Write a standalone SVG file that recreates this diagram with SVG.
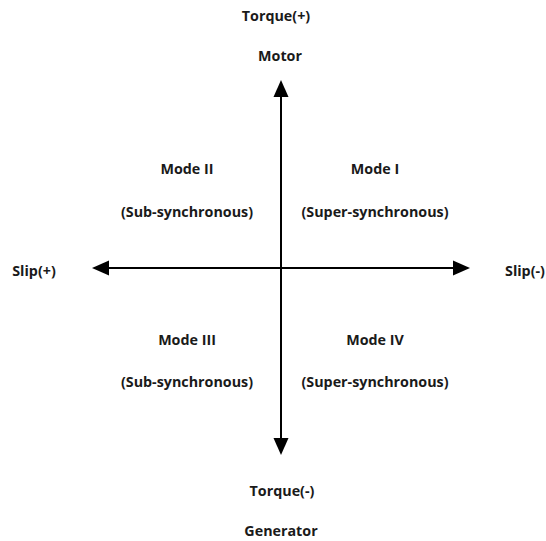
<svg xmlns="http://www.w3.org/2000/svg" width="546" height="541" viewBox="0 0 546 541">
<defs>
<style>
text{font-family:"Open Sans","Noto Sans",sans-serif;font-weight:bold;font-size:14.3px;fill:#1a1a1a;text-anchor:middle;dominant-baseline:central}
.ax{stroke:#000;stroke-width:2;fill:none}
</style>
</defs>
<rect width="546" height="541" fill="#fff"/>
<g id="connectors">
<path class="ax" d="M281,268 V96"/>
<path d="M281,80 L273.5,97 L288.5,97 z" fill="#000"/>
<path class="ax" d="M281,268 V439"/>
<path d="M281,455 L273.5,438 L288.5,438 z" fill="#000"/>
<path class="ax" d="M281,268 H108"/>
<path d="M92,268 L109,260.5 L109,275.5 z" fill="#000"/>
<path class="ax" d="M281,268 H454"/>
<path d="M470,268 L453,260.5 L453,275.5 z" fill="#000"/>
</g>
<g id="torque-pos"><text x="276" y="15">Torque(+)</text></g>
<g id="motor"><text x="280" y="55">Motor</text></g>
<g id="mode2"><text x="187" y="168">Mode II</text><text x="187" y="211">(Sub-synchronous)</text></g>
<g id="mode1"><text x="375" y="168">Mode I</text><text x="375" y="211">(Super-synchronous)</text></g>
<g id="slip-pos"><text x="34" y="270">Slip(+)</text></g>
<g id="slip-neg"><text x="525" y="270">Slip(-)</text></g>
<g id="mode3"><text x="187" y="339">Mode III</text><text x="187" y="381">(Sub-synchronous)</text></g>
<g id="mode4"><text x="375" y="339">Mode IV</text><text x="375" y="381">(Super-synchronous)</text></g>
<g id="torque-neg"><text x="282" y="490">Torque(-)</text></g>
<g id="generator"><text x="281" y="530">Generator</text></g>
</svg>
